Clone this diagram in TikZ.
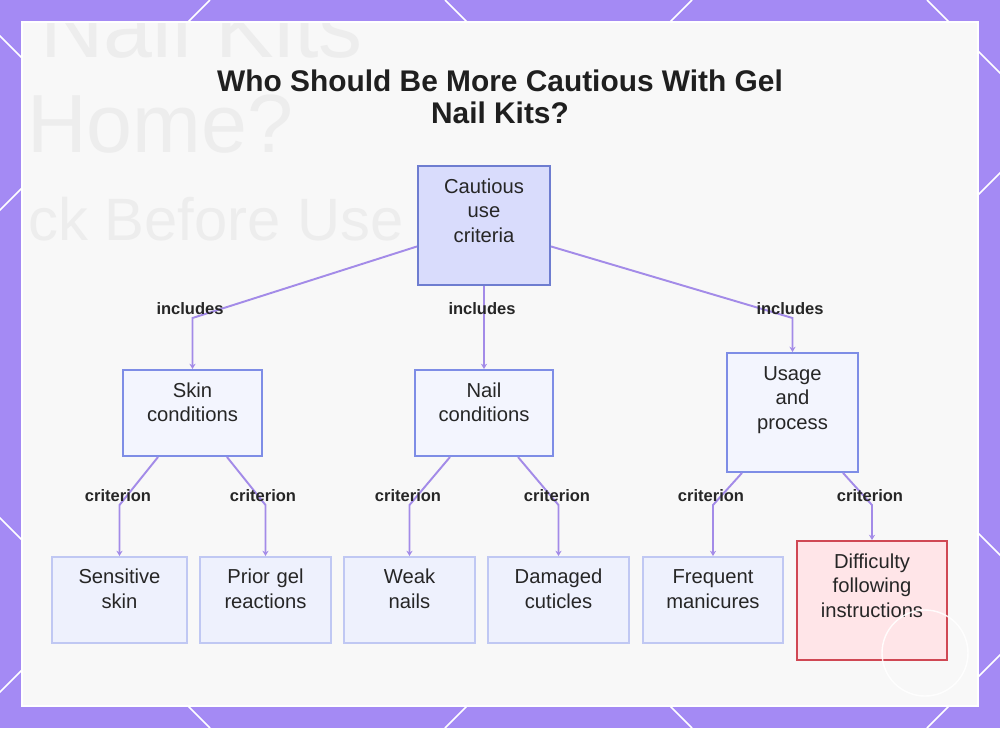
\documentclass[tikz,border=0pt]{standalone}
\usepackage{fontspec}
\setmainfont{Liberation Sans}
\usetikzlibrary{arrows.meta,calc}
\definecolor{bgpurple}{RGB}{164,138,244}
\definecolor{panel}{RGB}{248,248,248}
\definecolor{ghost}{RGB}{237,237,237}
\definecolor{edgec}{RGB}{163,139,232}
\definecolor{rootfill}{RGB}{217,220,252}
\definecolor{rootline}{RGB}{110,125,208}
\definecolor{midfill}{RGB}{243,245,254}
\definecolor{midline}{RGB}{126,141,230}
\definecolor{leaffill}{RGB}{238,241,253}
\definecolor{leafline}{RGB}{192,200,243}
\definecolor{warnfill}{RGB}{255,229,232}
\definecolor{warnline}{RGB}{208,72,84}
\definecolor{ink}{RGB}{38,38,38}
\definecolor{titleink}{RGB}{31,31,31}

\begin{document}
\begin{tikzpicture}[x=0.02cm,y=-0.02cm,>={Stealth[length=3pt,width=3.5pt]},font=\fontsize{11.5}{14.2}\selectfont]
\tikzstyle{box}=[draw,line width=1.1pt,inner sep=0pt,align=center,text=ink,text height=15.4pt,anchor=north]
\tikzstyle{short}=[text depth=33.6pt]
\tikzstyle{tall}=[text depth=52.3pt]
\tikzstyle{rootbox}=[box,tall,fill=rootfill,draw=rootline]
\tikzstyle{midbox}=[box,fill=midfill,draw=midline]
\tikzstyle{leafbox}=[box,short,fill=leaffill,draw=leafline,line width=0.9pt]
\tikzstyle{warnbox}=[box,tall,fill=warnfill,draw=warnline]
\tikzstyle{lbl}=[font=\fontsize{9.4}{11}\selectfont\bfseries,text=ink,inner sep=0pt]
\tikzstyle{link}=[draw=edgec,line width=1.1pt,->]
\tikzstyle{ghosttext}=[text=ghost,inner sep=0pt,anchor=base west]
\useasboundingbox (0,0) rectangle (1000,728);
% frame with lattice
\fill[bgpurple] (0,0) rectangle (1000,728);
\begin{scope}
\clip (0,0) rectangle (1000,728);
\foreach \c in {210,692,1173,1655} \draw[white,line width=0.9pt] (\c,0) -- (\c-728,728);
\foreach \c in {-518,-36,445,927} \draw[white,line width=0.9pt] (\c,0) -- (\c+728,728);
\end{scope}
\filldraw[fill=panel,draw=white,line width=1.2pt] (22,22) rectangle (978,706);
\begin{scope}
\clip (23,23) rectangle (977,705);
\node[ghosttext,font=\fontsize{50}{50}\selectfont] (bgA) at (40,57) {Nail Kits};
\node[ghosttext,font=\fontsize{47}{47}\selectfont] (bgB) at (27,152) {Home?};
\node[ghosttext,font=\fontsize{34}{34}\selectfont] (bgC) at (28,240) {ck Before Use};
\end{scope}
\node[font=\fontsize{17}{18.2}\selectfont\bfseries,text=titleink,align=center] (title) at (500,97) {Who Should Be More Cautious With Gel\\Nail Kits?};

% boxes
\node[rootbox,text width=2.64cm] (criteria) at (484,165) {Cautious\\use\\criteria};
\node[midbox,short,text width=2.78cm] (skin) at (192.5,369) {Skin\\conditions};
\node[midbox,short,text width=2.76cm] (nail) at (484,369) {Nail\\conditions};
\node[midbox,tall,text width=2.62cm] (usage) at (792.5,352) {Usage\\and\\process};
\node[leafbox,text width=2.70cm] (sens) at (119.5,556) {Sensitive\\skin};
\node[leafbox,text width=2.62cm] (prior) at (265.5,556) {Prior gel\\reactions};
\node[leafbox,text width=2.62cm] (weak) at (409.5,556) {Weak\\nails};
\node[leafbox,text width=2.82cm] (cut) at (558.5,556) {Damaged\\cuticles};
\node[leafbox,text width=2.80cm] (freq) at (713,556) {Frequent\\manicures};
\node[warnbox,text width=3.0cm] (hard) at (872,540) {Difficulty\\following\\instructions};

% links
\coordinate (lvA) at (0,318); \coordinate (lvB) at (0,505);
\draw[link] ($(criteria.west)+(0,21)$) -- (skin.north |- lvA) -- (skin.north);
\draw[link] (criteria.south) -- (nail.north);
\draw[link] ($(criteria.east)+(0,21)$) -- (usage.north |- lvA) -- (usage.north);
\draw[link] ($(skin.south)+(-34.5,0)$) -- (sens.north |- lvB) -- (sens.north);
\draw[link] ($(skin.south)+(34.5,0)$) -- (prior.north |- lvB) -- (prior.north);
\draw[link] ($(nail.south)+(-34,0)$) -- (weak.north |- lvB) -- (weak.north);
\draw[link] ($(nail.south)+(34,0)$) -- (cut.north |- lvB) -- (cut.north);
\draw[link] ($(usage.south)+(-50.5,0)$) -- (freq.north |- lvB) -- (freq.north);
\draw[link] ($(usage.south)+(50.5,0)$) -- (hard.north |- lvB) -- (hard.north);

\node[lbl] (inc1) at (190,309) {includes};
\node[lbl] (inc2) at (482,309) {includes};
\node[lbl] (inc3) at (790,309) {includes};
\node[lbl] (crA) at (118,496) {criterion};
\node[lbl] (crB) at (263,496) {criterion};
\node[lbl] (crC) at (408,496) {criterion};
\node[lbl] (crD) at (557,496) {criterion};
\node[lbl] (crE) at (711,496) {criterion};
\node[lbl] (crF) at (870,496) {criterion};

\draw[white,line width=0.8pt,opacity=0.9] (925,653) circle (43);
\end{tikzpicture}
\end{document}
